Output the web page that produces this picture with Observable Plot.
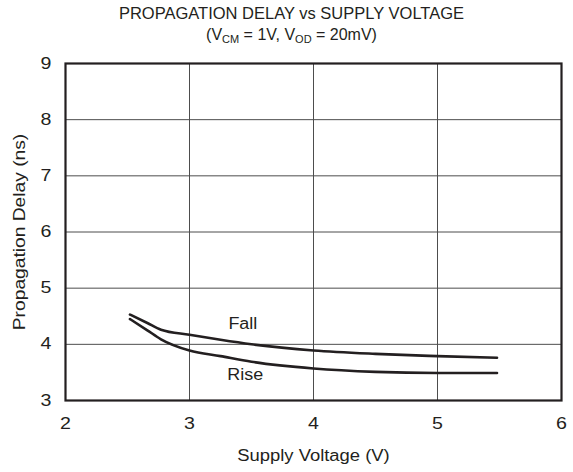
<!DOCTYPE html>
<html>
<head>
<meta charset="utf-8">
<script src="https://cdn.jsdelivr.net/npm/d3@7"></script>
<script src="https://cdn.jsdelivr.net/npm/@observablehq/plot@0.6"></script>
<style>
  body { margin: 0; background: #fff; font-family: "Liberation Sans", Arial, sans-serif; color: #231f20; }
  #wrap { width: 573px; }
  .t1 { text-align: center; font-size: 16.5px; height: 22px; line-height: 22px; padding-left: 10px; padding-top: 2px; }
  .t2 { text-align: center; font-size: 16px; height: 22px; line-height: 22px; padding-left: 10px; }
  .t2 sub { font-size: 11px; vertical-align: -3px; line-height: 0; }
</style>
</head>
<body>
<div id="wrap">
  <div class="t1">PROPAGATION DELAY vs SUPPLY VOLTAGE</div>
  <div class="t2">(V<sub>CM</sub> = 1V, V<sub>OD</sub> = 20mV)</div>
  <div id="chart"></div>
</div>
<script>
const voltage = [2.52, 2.66, 2.77, 3.0, 3.25, 3.5, 4.0, 4.5, 5.0, 5.48];
const fallDelay = [4.53, 4.38, 4.26, 4.17, 4.08, 4.0, 3.89, 3.83, 3.79, 3.76];
const riseDelay = [4.45, 4.25, 4.09, 3.89, 3.79, 3.69, 3.57, 3.51, 3.49, 3.49];
const xTicks = [2, 3, 4, 5, 6];
const yTicks = [3, 4, 5, 6, 7, 8, 9];
const seriesLabels = [
  {text: "Fall", v: 3.43, d: 4.37},
  {text: "Rise", v: 3.45, d: 3.45}
];

const fall = voltage.map((v, i) => ({v, d: fallDelay[i]}));
const rise = voltage.map((v, i) => ({v, d: riseDelay[i]}));

const ink = "#231f20";
const plot = Plot.plot({
  width: 573,
  height: 426,
  marginLeft: 65,
  marginRight: 12,
  marginTop: 17,
  marginBottom: 72,
  style: {fontFamily: "'Liberation Sans', Arial, sans-serif", fontSize: "16px", color: ink, background: "#fff"},
  x: {domain: [2, 6]},
  y: {domain: [3, 9]},
  marks: [
    Plot.gridX(xTicks.slice(1, -1), {stroke: "#4d4d4d", strokeOpacity: 1, strokeWidth: 1}),
    Plot.gridY(yTicks.slice(1, -1), {stroke: "#4d4d4d", strokeOpacity: 1, strokeWidth: 1}),
    Plot.axisX(xTicks, {tickSize: 0, tickPadding: 17, tickFormat: d3.format("d"), label: "Supply Voltage (V)", labelAnchor: "center", labelArrow: "none", labelOffset: 60, fontSize: 16}),
    Plot.axisY(yTicks, {tickSize: 0, tickPadding: 14, tickFormat: d3.format("d"), label: "Propagation Delay (ns)", labelAnchor: "center", labelArrow: "none", labelOffset: 52, fontSize: 16}),
    Plot.line(fall, {x: "v", y: "d", stroke: ink, strokeWidth: 2.6, curve: "monotone-x"}),
    Plot.line(rise, {x: "v", y: "d", stroke: ink, strokeWidth: 2.6, curve: "monotone-x"}),
    Plot.text(seriesLabels, {x: "v", y: "d", text: "text", fontSize: 16, fill: ink}),
    Plot.frame({stroke: ink, strokeWidth: 2.2})
  ]
});
document.getElementById("chart").appendChild(plot);

// reference typeface is horizontally wider than Arial: widen texts to match
function stretch(selector, factor) {
  plot.querySelectorAll(selector).forEach(el => {
    const L = el.getComputedTextLength();
    if (L > 0) {
      el.setAttribute("textLength", (L * factor).toFixed(1));
      el.setAttribute("lengthAdjust", "spacingAndGlyphs");
    }
  });
}
stretch('g[aria-label="x-axis tick label"] text', 1.22);
stretch('g[aria-label="y-axis tick label"] text', 1.22);
stretch('g[aria-label="x-axis label"] text', 1.15);
stretch('g[aria-label="y-axis label"] text', 1.2);
stretch('g[aria-label="text"] text', 1.12);
</script>
</body>
</html>
